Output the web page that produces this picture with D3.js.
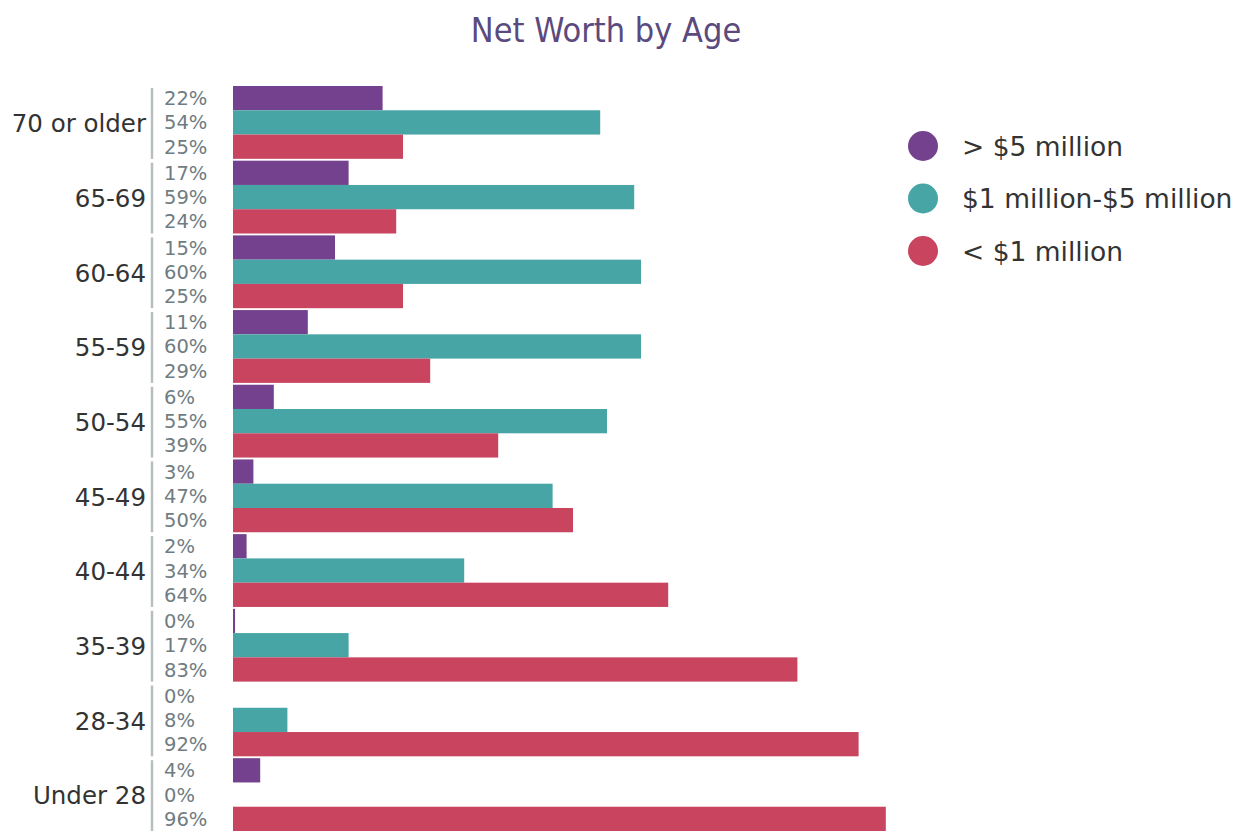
<!DOCTYPE html>
<html>
<head>
<meta charset="utf-8">
<script src="https://cdn.jsdelivr.net/npm/d3@7"></script>
<style>
  body { margin: 0; background: #fff; }
  text { font-family: "DejaVu Sans", sans-serif; }
</style>
</head>
<body>
<div id="chart"></div>
<script>
// data (35-39 top bar shows a hair-thin sliver, label rounds to 0%)
var ageGroups = ["70 or older", "65-69", "60-64", "55-59", "50-54", "45-49", "40-44", "35-39", "28-34", "Under 28"];
var seriesNames = ["> $5 million", "$1 million-$5 million", "< $1 million"];
var over5m = [22, 17, 15, 11, 6, 3, 2, 0.3, 0, 4];
var oneTo5m = [54, 59, 60, 60, 55, 47, 34, 17, 8, 0];
var under1m = [25, 24, 25, 29, 39, 50, 64, 83, 92, 96];
var colors = ["#74418f", "#47a5a6", "#c8445f"];

var width = 1243, height = 833;
var margin = { top: 86, left: 233, bottom: 2 };

var svg = d3.select("#chart")
    .append("svg")
    .attr("width", width)
    .attr("height", height);

// title
svg.append("text")
    .attr("x", 606)
    .attr("y", 42)
    .attr("text-anchor", "middle")
    .style("font-family", "'DejaVu Sans Condensed', 'Liberation Sans Narrow', sans-serif")
    .style("font-stretch", "condensed")
    .style("font-size", "34px")
    .attr("fill", "#5b4a7e")
    .text("Net Worth by Age");

// scales
var x = d3.scaleLinear()
    .domain([0, 100])
    .range([margin.left, margin.left + 680]);

var y = d3.scaleBand()
    .domain(ageGroups)
    .range([margin.top, height - margin.bottom])
    .paddingInner(0.025)
    .paddingOuter(0);

var ySub = d3.scaleBand()
    .domain([0, 1, 2])
    .range([0, y.bandwidth()]);

var allSeries = [over5m, oneTo5m, under1m];

var rows = [];
ageGroups.forEach(function (g, i) {
    allSeries.forEach(function (s, k) {
        rows.push({ group: g, k: k, value: s[i] });
    });
});

var groups = svg.selectAll(".grp")
    .data(ageGroups)
    .enter()
    .append("g")
    .attr("class", "grp")
    .attr("transform", function (d) { return "translate(0," + y(d) + ")"; });

// gray separator line for each group
groups.append("line")
    .attr("x1", 152).attr("x2", 152)
    .attr("y1", 2)
    .attr("y2", y.bandwidth())
    .attr("stroke", "#b8bdbf")
    .attr("stroke-width", 2.5);

// group label
groups.append("text")
    .attr("x", 146)
    .attr("y", ySub(1) + ySub.bandwidth() / 2 + 1)
    .attr("dy", "0.36em")
    .attr("text-anchor", "end")
    .style("font-size", "24.5px")
    .attr("fill", "#333")
    .text(function (d) { return d; });

// bars
svg.selectAll(".bar")
    .data(rows)
    .enter()
    .append("rect")
    .attr("class", "bar")
    .attr("x", x(0))
    .attr("y", function (d) { return y(d.group) + ySub(d.k); })
    .attr("width", function (d) { return x(d.value) - x(0); })
    .attr("height", ySub.bandwidth())
    .attr("fill", function (d) { return colors[d.k]; });

// percent labels
svg.selectAll(".pct")
    .data(rows)
    .enter()
    .append("text")
    .attr("class", "pct")
    .attr("x", 164)
    .attr("y", function (d) { return y(d.group) + ySub(d.k) + ySub.bandwidth() / 2; })
    .attr("dy", "0.36em")
    .style("font-size", "19.5px")
    .attr("fill", "#6f7c82")
    .text(function (d) { return Math.round(d.value) + "%"; });

// legend
var legend = svg.selectAll(".leg")
    .data(seriesNames)
    .enter()
    .append("g")
    .attr("class", "leg")
    .attr("transform", function (d, i) { return "translate(923," + (146 + i * 52.5) + ")"; });

legend.append("circle")
    .attr("r", 15)
    .attr("fill", function (d, i) { return colors[i]; });

legend.append("text")
    .attr("x", 39)
    .attr("dy", "0.36em")
    .style("font-size", "26.5px")
    .attr("fill", "#333")
    .text(function (d) { return d; });
</script>
</body>
</html>
